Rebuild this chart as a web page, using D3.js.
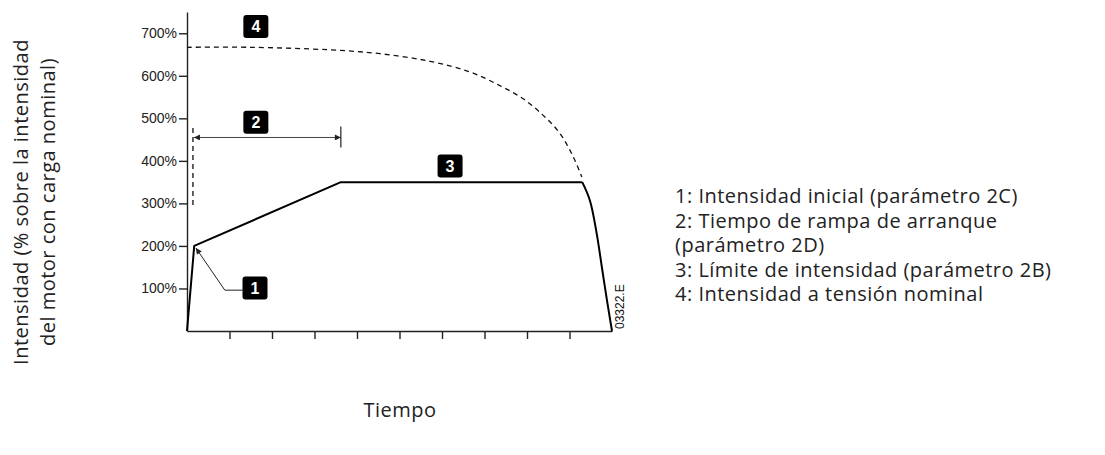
<!DOCTYPE html>
<html lang="es">
<head>
    <meta charset="UTF-8">
    <title>Intensidad de arranque</title>
    <script src="https://d3js.org/d3.v7.min.js"></script>
    <style>
        body { margin: 0; background: #fff; }
        svg { display: block; background: #fff; }
        .axis path, .axis line { stroke: #222; stroke-width: 1.4; }
        .axis text { font-family: 'Liberation Sans', Arial, sans-serif; font-size: 14px; fill: #222; }
        .big-label { font-family: 'Open Sans', 'Noto Sans', sans-serif; font-size: 20px; letter-spacing: 0.5px; fill: #222; }
        .badge rect { fill: #000; }
        .badge text { font-family: 'Liberation Sans', Arial, sans-serif; font-weight: bold; font-size: 16px; fill: #fff; text-anchor: middle; }
    </style>
</head>
<body>
<svg width="1105" height="455"></svg>
<script>
// axis ticks
const timeTicks = [1, 2, 3, 4, 5, 6, 7, 8, 9];
const pctTicks = [100, 200, 300, 400, 500, 600, 700];

// motor current with soft start (solid line): ramp part and decay part
const rampTime = [0, 0.17, 3.62, 9.30];
const rampPct = [0, 200, 350, 350];
const decayTime = [9.30, 9.48, 9.64, 9.76, 9.88, 10.0];
const decayPct = [350, 307, 229, 151, 73, 0];

// current at nominal voltage (dashed curve)
const ratedTime = [0, 1.48, 3.36, 4.54, 5.72, 6.66, 7.36, 7.91, 8.38, 8.78, 9.09, 9.29];
const ratedPct = [667, 667, 661, 652, 634, 609, 577, 546, 507, 464, 409, 362];

// ramp time marker
const rampStart = 0.14;
const rampEnd = 3.62;
const rampArrowPct = 455;
const startMarkerPct = [296, 483];

// numbered badges
const badgeIds = ["4", "2", "3", "1"];
const badgeTime = [1.62, 1.62, 6.19, 1.60];
const badgePct = [716, 491, 388, 101];

// callout for badge 1: elbow and tip
const calloutTime = [1.31, 0.89, 0.21];
const calloutPct = [96, 96, 195];

const legendLines = [
    "1: Intensidad inicial (parámetro 2C)",
    "2: Tiempo de rampa de arranque",
    "(parámetro 2D)",
    "3: Límite de intensidad (parámetro 2B)",
    "4: Intensidad a tensión nominal"
];
const yTitle = ["Intensidad (% sobre la intensidad", "del motor con carga nominal)"];
const xTitle = "Tiempo";
const drawingCode = "03322.E";

const svg = d3.select("svg");
const x = d3.scaleLinear([0, 10], [187, 612]);
const y = d3.scaleLinear([0, 750], [331, 12]);

const defs = svg.append("defs");
function arrowMarker(id, orient) {
    defs.append("marker")
        .attr("id", id)
        .attr("viewBox", "0 0 10 10")
        .attr("refX", 10).attr("refY", 5)
        .attr("markerWidth", 7).attr("markerHeight", 6)
        .attr("markerUnits", "userSpaceOnUse")
        .attr("orient", orient)
        .append("path")
        .attr("d", "M0,0 L10,5 L0,10 Z")
        .attr("fill", "#222");
}
arrowMarker("arrow", "auto");
arrowMarker("arrow-start", "auto-start-reverse");

// axes
svg.append("g")
    .attr("class", "axis")
    .attr("transform", `translate(${x(0)},0)`)
    .call(d3.axisLeft(y).tickValues(pctTicks).tickFormat(d => d + "%").tickSize(8).tickSizeOuter(0).tickPadding(2));

svg.append("g")
    .attr("class", "axis")
    .attr("transform", `translate(0,${y(0)})`)
    .call(d3.axisBottom(x).tickValues(timeTicks).tickFormat("").tickSize(8).tickSizeOuter(0));

// rated current (dashed)
const ratedData = ratedTime.map((t, i) => [t, ratedPct[i]]);
svg.append("path")
    .datum(ratedData)
    .attr("fill", "none")
    .attr("stroke", "#111")
    .attr("stroke-width", 1.3)
    .attr("stroke-dasharray", "5,4")
    .attr("d", d3.line().x(d => x(d[0])).y(d => y(d[1])).curve(d3.curveCatmullRom));

// soft start current (solid)
const rampData = rampTime.map((t, i) => [t, rampPct[i]]);
svg.append("path")
    .datum(rampData)
    .attr("fill", "none")
    .attr("stroke", "#000")
    .attr("stroke-width", 2)
    .attr("stroke-linejoin", "round")
    .attr("d", d3.line().x(d => x(d[0])).y(d => y(d[1])));

const decayData = decayTime.map((t, i) => [t, decayPct[i]]);
svg.append("path")
    .datum(decayData)
    .attr("fill", "none")
    .attr("stroke", "#000")
    .attr("stroke-width", 2)
    .attr("d", d3.line().x(d => x(d[0])).y(d => y(d[1])).curve(d3.curveCatmullRom));

// start marker (dashed vertical)
svg.append("line")
    .attr("x1", x(rampStart)).attr("x2", x(rampStart))
    .attr("y1", y(startMarkerPct[0])).attr("y2", y(startMarkerPct[1]))
    .attr("stroke", "#111").attr("stroke-width", 1.3)
    .attr("stroke-dasharray", "5,4");

// ramp time arrow
svg.append("line")
    .attr("x1", x(rampStart) + 1).attr("x2", x(rampEnd))
    .attr("y1", y(rampArrowPct)).attr("y2", y(rampArrowPct))
    .attr("stroke", "#444").attr("stroke-width", 1)
    .attr("marker-start", "url(#arrow-start)")
    .attr("marker-end", "url(#arrow)");
svg.append("line")
    .attr("x1", x(rampEnd)).attr("x2", x(rampEnd))
    .attr("y1", y(rampArrowPct) - 11).attr("y2", y(rampArrowPct) + 10)
    .attr("stroke", "#222").attr("stroke-width", 1.2);

// callout for badge 1
const calloutData = calloutTime.map((t, i) => [t, calloutPct[i]]);
svg.append("path")
    .datum(calloutData)
    .attr("fill", "none")
    .attr("stroke", "#222")
    .attr("stroke-width", 1)
    .attr("marker-end", "url(#arrow)")
    .attr("d", d3.line().x(d => x(d[0])).y(d => y(d[1])));

// badges
const badges = svg.selectAll(".badge")
    .data(badgeIds.map((id, i) => ({ id, t: badgeTime[i], p: badgePct[i] })))
    .join("g")
    .attr("class", "badge")
    .attr("transform", d => `translate(${x(d.t)},${y(d.p)})`);
badges.append("rect")
    .attr("x", -12.5).attr("y", -11.5)
    .attr("width", 25).attr("height", 23)
    .attr("rx", 3);
badges.append("text")
    .attr("y", 6)
    .text(d => d.id);

// drawing code
svg.append("text")
    .attr("transform", `translate(624,${y(0) - 2}) rotate(-90)`)
    .attr("font-family", "'Liberation Sans', Arial, sans-serif")
    .attr("font-size", 12)
    .attr("fill", "#111")
    .text(drawingCode);

// axis titles
svg.append("text")
    .attr("class", "big-label")
    .attr("x", 400).attr("y", 417)
    .attr("text-anchor", "middle")
    .text(xTitle);

svg.append("g")
    .attr("transform", "translate(0,202)")
    .selectAll("text")
    .data(yTitle)
    .join("text")
    .attr("class", "big-label")
    .attr("text-anchor", "middle")
    .attr("transform", (d, i) => `translate(${28 + i * 27},0) rotate(-90)`)
    .text(d => d);

// legend
svg.append("g")
    .selectAll("text")
    .data(legendLines)
    .join("text")
    .attr("class", "big-label")
    .attr("x", 675)
    .attr("y", (d, i) => 203 + i * 24.6)
    .text(d => d);
</script>
</body>
</html>
